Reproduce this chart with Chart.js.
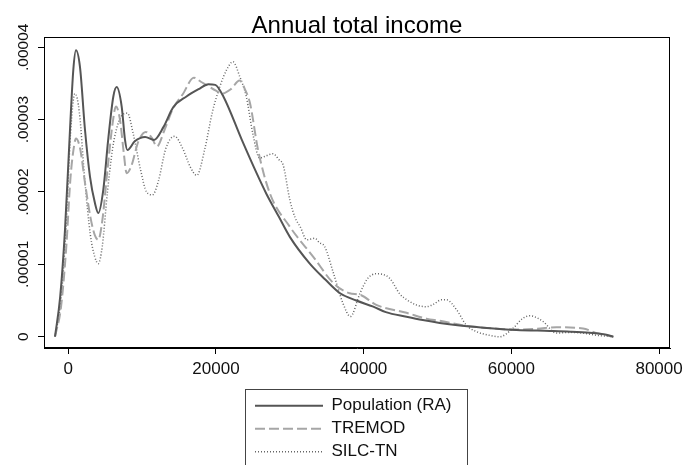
<!DOCTYPE html>
<html><head><meta charset="utf-8">
<script src="https://cdn.jsdelivr.net/npm/chart.js@4"></script>
<style>html,body{margin:0;padding:0;background:#fff}canvas{display:block}</style>
</head><body>
<canvas id="c" width="683" height="465" style="width:683px;height:465px"></canvas>
<script>
const chartTitle = 'Annual total income';
const seriesNames = ['Population (RA)', 'TREMOD', 'SILC-TN'];
const xTickValues = [0, 20000, 40000, 60000, 80000];
const xTickLabels = ['0', '20000', '40000', '60000', '80000'];
const yTickValues = [0, 0.00001, 0.00002, 0.00003, 0.00004];
const yTickLabels = ['0', '.00001', '.00002', '.00003', '.00004'];

const popIncome = [-1800, -1100, -450, 230, 680, 1040, 1580, 2260, 2940, 3600, 4060, 4740, 5400, 6100, 6550, 7230, 7680, 8000, 9000, 10400, 11600, 12900, 14200, 16000, 17800, 18960, 19900, 21000, 23500, 25500, 26800, 28500, 30000, 32700, 34800, 36800, 39000, 41300, 43000, 45800, 48000, 50300, 53000, 56200, 60700, 65200, 68000, 70600, 72500, 73800];
const popDensity = [0, 0.55e-5, 1.47e-5, 2.86e-5, 3.69e-5, 3.96e-5, 3.73e-5, 2.86e-5, 2.21e-5, 1.85e-5, 1.71e-5, 2.03e-5, 2.72e-5, 3.32e-5, 3.45e-5, 3.18e-5, 2.72e-5, 2.58e-5, 2.70e-5, 2.76e-5, 2.72e-5, 2.90e-5, 3.17e-5, 3.32e-5, 3.43e-5, 3.49e-5, 3.48e-5, 3.32e-5, 2.72e-5, 2.26e-5, 1.98e-5, 1.66e-5, 1.38e-5, 1.01e-5, 0.79e-5, 0.60e-5, 0.50e-5, 0.415e-5, 0.34e-5, 0.276e-5, 0.23e-5, 0.19e-5, 0.155e-5, 0.125e-5, 0.093e-5, 0.08e-5, 0.07e-5, 0.055e-5, 0.035e-5, 0];

const tremodIncome = [-1800, -1000, -300, 300, 800, 1040, 1600, 2300, 3000, 3600, 4060, 4600, 5300, 6000, 6450, 7000, 7500, 7900, 8500, 9500, 10500, 11300, 12000, 13000, 14200, 15500, 17000, 18000, 18700, 20000, 20800, 22000, 23200, 24000, 24600, 25700, 27300, 30000, 33200, 35900, 38100, 39500, 41700, 45800, 48500, 50300, 53900, 57000, 60700, 63500, 66100, 69700, 71500, 73800];
const tremodDensity = [0, 0.4e-5, 1.2e-5, 2.2e-5, 2.65e-5, 2.74e-5, 2.6e-5, 2.1e-5, 1.65e-5, 1.4e-5, 1.34e-5, 1.6e-5, 2.3e-5, 2.95e-5, 3.18e-5, 3.0e-5, 2.55e-5, 2.26e-5, 2.35e-5, 2.7e-5, 2.83e-5, 2.75e-5, 2.63e-5, 2.85e-5, 3.16e-5, 3.35e-5, 3.58e-5, 3.52e-5, 3.48e-5, 3.4e-5, 3.36e-5, 3.42e-5, 3.54e-5, 3.4e-5, 3.23e-5, 2.58e-5, 1.98e-5, 1.52e-5, 1.1e-5, 0.74e-5, 0.60e-5, 0.58e-5, 0.44e-5, 0.33e-5, 0.25e-5, 0.22e-5, 0.15e-5, 0.12e-5, 0.1e-5, 0.11e-5, 0.13e-5, 0.115e-5, 0.05e-5, 0];

const silcIncome = [-1800, -1000, -300, 300, 900, 1500, 2200, 3000, 3600, 4060, 4600, 5300, 6000, 6500, 7200, 8000, 8800, 9800, 10600, 11400, 12200, 13200, 14400, 15500, 16500, 17400, 18500, 19500, 20500, 21500, 22300, 23200, 24100, 25000, 25900, 26800, 27700, 28500, 29100, 30000, 30700, 31400, 32300, 33400, 34000, 34700, 35900, 37200, 38200, 39500, 40500, 41700, 43500, 44900, 46000, 47100, 48500, 49500, 50500, 51200, 52600, 53900, 55300, 57000, 58400, 60200, 61500, 62500, 63500, 64300, 66100, 68000, 69700, 71500, 73800];
const silcDensity = [0, 0.5e-5, 1.5e-5, 2.8e-5, 3.36e-5, 3.1e-5, 2.2e-5, 1.4e-5, 1.1e-5, 1.01e-5, 1.25e-5, 2.0e-5, 2.6e-5, 2.86e-5, 3.05e-5, 3.09e-5, 2.8e-5, 2.3e-5, 2.0e-5, 1.96e-5, 2.15e-5, 2.6e-5, 2.77e-5, 2.6e-5, 2.35e-5, 2.23e-5, 2.6e-5, 3.1e-5, 3.45e-5, 3.7e-5, 3.80e-5, 3.6e-5, 3.32e-5, 2.8e-5, 2.47e-5, 2.5e-5, 2.53e-5, 2.45e-5, 2.37e-5, 1.89e-5, 1.65e-5, 1.52e-5, 1.34e-5, 1.36e-5, 1.3e-5, 1.25e-5, 0.88e-5, 0.46e-5, 0.28e-5, 0.6e-5, 0.8e-5, 0.87e-5, 0.81e-5, 0.59e-5, 0.5e-5, 0.44e-5, 0.415e-5, 0.45e-5, 0.51e-5, 0.51e-5, 0.37e-5, 0.16e-5, 0.07e-5, 0.02e-5, 0, 0.115e-5, 0.25e-5, 0.29e-5, 0.26e-5, 0.21e-5, 0.05e-5, 0.06e-5, 0.05e-5, 0.02e-5, 0];

const FONT = '"Liberation Sans", Arial, sans-serif';
Chart.defaults.font.family = FONT;

function pts(xs, ys) { return xs.map((x, i) => ({ x: x, y: ys[i] })); }

const framePlugin = {
  id: 'frame',
  beforeDraw(chart) {
    const lg = chart.legend;
    if (lg) {
      lg.left = 249; lg.right = 470; lg.top = 391.2; lg.bottom = 465;
      lg.width = lg.right - lg.left; lg.height = lg.bottom - lg.top;
    }
  },
  afterDraw(chart) {
    const ctx = chart.ctx, a = chart.chartArea;
    ctx.save();
    ctx.lineWidth = 1;
    ctx.strokeStyle = '#000';
    ctx.strokeRect(Math.round(a.left) + 0.5, Math.round(a.top) + 0.5, Math.round(a.right - a.left) - 1, Math.round(a.bottom - a.top) - 1);
    ctx.strokeStyle = '#444';
    ctx.strokeRect(245.5, 389.5, 222, 100);
    ctx.restore();
  }
};

const axisGrid = { display: true, drawOnChartArea: false, drawTicks: true, tickLength: 6, color: '#000', lineWidth: 1 };
const axisBorder = { display: true, color: '#000', width: 1 };

new Chart(document.getElementById('c'), {
  type: 'scatter',
  data: {
    datasets: [
      { label: seriesNames[0], data: pts(popIncome, popDensity), showLine: true, borderColor: '#555555', backgroundColor: 'rgba(0,0,0,0)', borderWidth: 2, pointRadius: 0, cubicInterpolationMode: 'monotone', order: 1 },
      { label: seriesNames[1], data: pts(tremodIncome, tremodDensity), showLine: true, borderColor: '#a6a6a6', backgroundColor: 'rgba(0,0,0,0)', borderWidth: 2, borderDash: [10, 4], pointRadius: 0, cubicInterpolationMode: 'monotone', order: 2 },
      { label: seriesNames[2], data: pts(silcIncome, silcDensity), showLine: true, borderColor: '#666666', backgroundColor: 'rgba(0,0,0,0)', borderWidth: 1.5, borderDash: [1, 2], pointRadius: 0, cubicInterpolationMode: 'monotone', order: 3 }
    ]
  },
  options: {
    responsive: false,
    animation: false,
    events: [],
    layout: { padding: { top: 14, right: 13, left: 0, bottom: 81 } },
    plugins: {
      tooltip: { enabled: false },
      title: { display: true, text: chartTitle, color: '#000', fullSize: false, font: { size: 24, weight: 'normal', lineHeight: 1 }, padding: { top: 0, bottom: -1 } },
      legend: {
        display: true, position: 'bottom', align: 'start', maxHeight: 1,
        labels: { boxWidth: 68, boxHeight: 0, padding: 6, color: '#111', font: { size: 17 } }
      }
    },
    scales: {
      x: {
        type: 'linear', min: -3290, max: 81480,
        afterBuildTicks: s => { s.ticks = xTickValues.map(v => ({ value: v })); },
        afterFit: s => { s.height = 35; s.paddingLeft = 0; s.paddingRight = 0; },
        grid: axisGrid, border: axisBorder,
        ticks: { padding: 5, minRotation: 0, maxRotation: 0, autoSkip: false, color: '#111', font: { size: 17 }, callback: (v, i) => xTickLabels[i] }
      },
      y: {
        type: 'linear', min: -0.156e-5, max: 4.142e-5,
        afterBuildTicks: s => { s.ticks = yTickValues.map(v => ({ value: v })); },
        afterFit: s => { s.width = 44; s.paddingTop = 0; s.paddingBottom = 0; },
        grid: axisGrid, border: axisBorder,
        ticks: { minRotation: 90, maxRotation: 90, crossAlign: 'center', padding: -9, autoSkip: false, color: '#111', font: { size: 15.5 }, callback: (v, i) => yTickLabels[i] }
      }
    }
  },
  plugins: [framePlugin]
});
</script>
</body></html>
